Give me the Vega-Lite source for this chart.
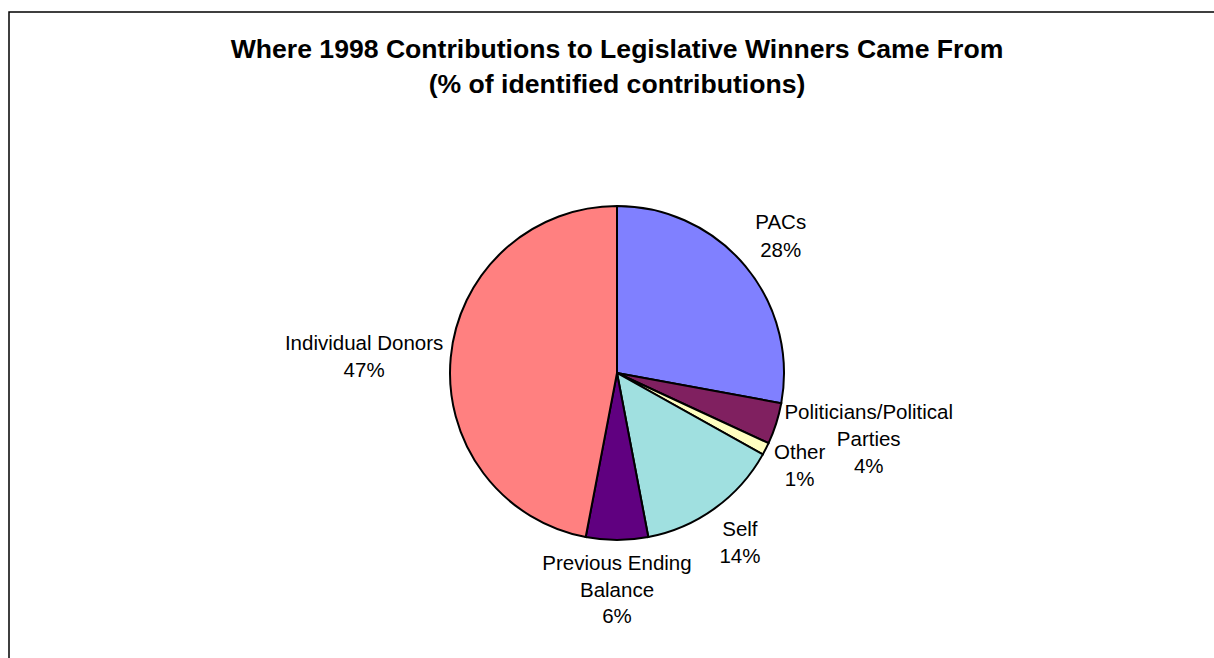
{
  "$schema": "https://vega.github.io/schema/vega-lite/v6.json",
  "width": 1216,
  "height": 722,
  "autosize": {"type": "none"},
  "padding": {"left": 9, "top": 12, "right": 0, "bottom": 0},
  "background": "white",
  "view": {"stroke": "black", "strokeWidth": 1.5, "fill": "white"},
  "title": {
    "text": ["Where 1998 Contributions to Legislative Winners Came From", "(% of identified contributions)"],
    "font": "Liberation Sans",
    "fontSize": 26.6,
    "fontWeight": "bold",
    "lineHeight": 35,
    "color": "black",
    "anchor": "middle",
    "frame": "group",
    "baseline": "top",
    "offset": -87
  },
  "data": {
    "values": [
      {"source": "PACs", "value": 27.9, "ord": 1, "lines": ["PACs", "28%"]},
      {"source": "Politicians/Political Parties", "value": 4.0, "ord": 2, "lines": ["Politicians/Political", "Parties", "4%"]},
      {"source": "Other", "value": 1.2, "ord": 3, "lines": ["Other", "1%"]},
      {"source": "Self", "value": 13.9, "ord": 4, "lines": ["Self", "14%"]},
      {"source": "Previous Ending Balance", "value": 6.0, "ord": 5, "lines": ["Previous Ending", "Balance", "6%"]},
      {"source": "Individual Donors", "value": 47.0, "ord": 6, "lines": ["Individual Donors", "47%"]}
    ]
  },
  "transform": [
    {"stack": "value", "groupby": [], "sort": [{"field": "ord", "order": "ascending"}], "as": ["v0", "v1"]},
    {"calculate": "(datum.v0 + datum.v1) / 2", "as": "mid"}
  ],
  "layer": [
    {
      "mark": {"type": "arc", "outerRadius": 167, "stroke": "black", "strokeWidth": 2},
      "encoding": {
        "theta": {"field": "v0", "type": "quantitative", "stack": null, "scale": {"domain": [0, 100]}},
        "theta2": {"field": "v1"},
        "color": {
          "field": "source",
          "type": "nominal",
          "legend": null,
          "scale": {
            "domain": ["PACs", "Politicians/Political Parties", "Other", "Self", "Previous Ending Balance", "Individual Donors"],
            "range": ["#8080FF", "#802060", "#FFFFC0", "#A0E0E0", "#600080", "#FF8080"]
          }
        }
      }
    },
    {
      "transform": [{"filter": "datum.source === 'PACs'"}],
      "mark": {"type": "text", "radius": 213, "dy": -14, "font": "Liberation Sans", "fontSize": 20.5, "lineHeight": 28, "color": "black", "align": "center", "baseline": "middle"},
      "encoding": {"theta": {"field": "mid", "type": "quantitative", "stack": null}, "text": {"field": "lines"}}
    },
    {
      "transform": [{"filter": "datum.source === 'Politicians/Political Parties'"}],
      "mark": {"type": "text", "radius": 261, "dx": 3, "dy": -39, "font": "Liberation Sans", "fontSize": 20.5, "lineHeight": 27, "color": "black", "align": "center", "baseline": "middle"},
      "encoding": {"theta": {"field": "mid", "type": "quantitative", "stack": null}, "text": {"field": "lines"}}
    },
    {
      "transform": [{"filter": "datum.source === 'Other'"}],
      "mark": {"type": "text", "radius": 205, "dy": -13.5, "font": "Liberation Sans", "fontSize": 20.5, "lineHeight": 27, "color": "black", "align": "center", "baseline": "middle"},
      "encoding": {"theta": {"field": "mid", "type": "quantitative", "stack": null}, "text": {"field": "lines"}}
    },
    {
      "transform": [{"filter": "datum.source === 'Self'"}],
      "mark": {"type": "text", "radius": 210, "dy": -13.5, "font": "Liberation Sans", "fontSize": 20.5, "lineHeight": 27, "color": "black", "align": "center", "baseline": "middle"},
      "encoding": {"theta": {"field": "mid", "type": "quantitative", "stack": null}, "text": {"field": "lines"}}
    },
    {
      "transform": [{"filter": "datum.source === 'Previous Ending Balance'"}],
      "mark": {"type": "text", "radius": 218, "dy": -27, "font": "Liberation Sans", "fontSize": 20.5, "lineHeight": 26.5, "color": "black", "align": "center", "baseline": "middle"},
      "encoding": {"theta": {"field": "mid", "type": "quantitative", "stack": null}, "text": {"field": "lines"}}
    },
    {
      "transform": [{"filter": "datum.source === 'Individual Donors'"}],
      "mark": {"type": "text", "radius": 254, "dy": -5.5, "font": "Liberation Sans", "fontSize": 20.5, "lineHeight": 27.5, "color": "black", "align": "center", "baseline": "middle"},
      "encoding": {"theta": {"field": "mid", "type": "quantitative", "stack": null}, "text": {"field": "lines"}}
    }
  ]
}
